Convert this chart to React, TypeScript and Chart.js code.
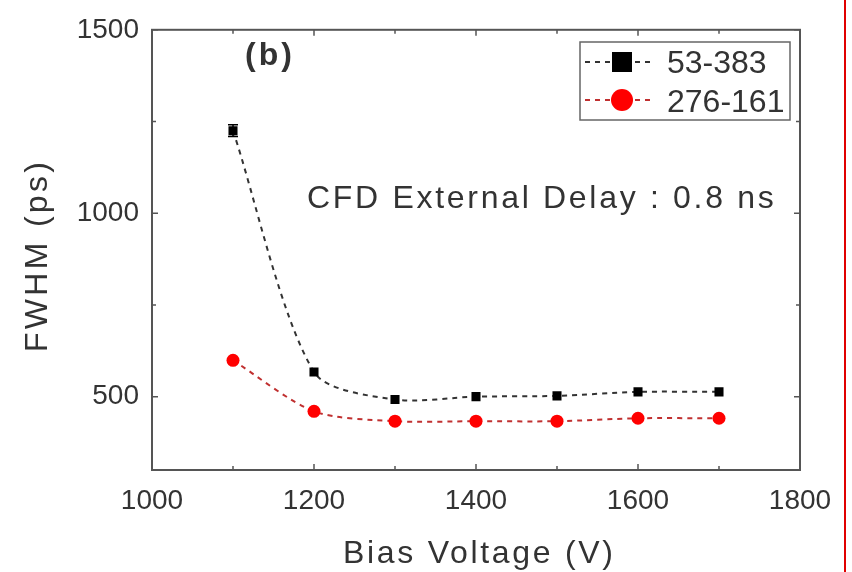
import React, { useEffect, useRef } from "react";
import { Chart, registerables } from "chart.js";

Chart.register(...registerables);

const voltages = [1100, 1200, 1300, 1400, 1500, 1600, 1700];
const fwhm53 = [1225, 567, 492, 500, 502, 513, 513];
const err53 = [16, 0, 0, 0, 0, 0, 0];
const fwhm276 = [599, 460, 433, 433, 433, 441, 441];
const seriesNames = ["53-383", "276-161"];
const xTickValues = [1000, 1100, 1200, 1300, 1400, 1500, 1600, 1700, 1800];
const xLabelValues = [1000, 1200, 1400, 1600, 1800];
const yTickValues = [500, 750, 1000, 1250, 1500];
const yLabelValues = [500, 1000, 1500];
const xTitle = "Bias Voltage (V)";
const yTitle = "FWHM (ps)";
const annotationText = "CFD External Delay : 0.8 ns";
const panelLabel = "(b)";

const FONT = "'Liberation Sans', Arial, sans-serif";
const TEXT = "#333333";

const decorPlugin = {
  id: "decor",
  afterDatasetsDraw(chart: any) {
    const ctx = chart.ctx;
    const { left, right, top, bottom } = chart.chartArea;
    const xs = chart.scales.x;
    const ys = chart.scales.y;
    ctx.save();
    // frame
    ctx.strokeStyle = "#555";
    ctx.lineWidth = 2;
    ctx.strokeRect(left, top, right - left, bottom - top);
    // inward ticks
    ctx.lineWidth = 1.5;
    xTickValues.forEach((v) => {
      const px = xs.getPixelForValue(v);
      const len = v % 200 === 0 ? 6 : 4;
      ctx.beginPath();
      ctx.moveTo(px, bottom);
      ctx.lineTo(px, bottom - len);
      ctx.moveTo(px, top);
      ctx.lineTo(px, top + len);
      ctx.stroke();
    });
    yTickValues.forEach((v) => {
      const py = ys.getPixelForValue(v);
      const len = v % 500 === 0 ? 6 : 4;
      ctx.beginPath();
      ctx.moveTo(left, py);
      ctx.lineTo(left + len, py);
      ctx.moveTo(right, py);
      ctx.lineTo(right - len, py);
      ctx.stroke();
    });
    // error bars
    ctx.strokeStyle = "#000";
    ctx.lineWidth = 1.5;
    voltages.forEach((v, i) => {
      const e = err53[i];
      if (!e) return;
      const px = xs.getPixelForValue(v);
      const y1 = ys.getPixelForValue(fwhm53[i] + e);
      const y2 = ys.getPixelForValue(fwhm53[i] - e);
      ctx.beginPath();
      ctx.moveTo(px, y1);
      ctx.lineTo(px, y2);
      ctx.moveTo(px - 5, y1);
      ctx.lineTo(px + 5, y1);
      ctx.moveTo(px - 5, y2);
      ctx.lineTo(px + 5, y2);
      ctx.stroke();
    });
    ctx.fillStyle = TEXT;
    ctx.textBaseline = "alphabetic";
    ctx.textAlign = "left";
    // panel label
    ctx.font = `bold 32px ${FONT}`;
    (ctx as any).letterSpacing = "3px";
    ctx.fillText(panelLabel, 245, 65);
    // annotation
    ctx.font = `32px ${FONT}`;
    (ctx as any).letterSpacing = "2.7px";
    ctx.fillText(annotationText, 307, 208);
    // axis titles
    ctx.fillText(xTitle, 343, 563);
    ctx.save();
    ctx.translate(47, 352);
    ctx.rotate(-Math.PI / 2);
    (ctx as any).letterSpacing = "3.3px";
    ctx.fillText(yTitle, 0, 0);
    ctx.restore();
    (ctx as any).letterSpacing = "0px";
    // legend box
    ctx.strokeStyle = "#666";
    ctx.lineWidth = 1.5;
    ctx.strokeRect(580, 42, 210, 78);
    const rows = [
      { y: 62, base: 73, color: "#000", line: "#333", shape: "rect" },
      { y: 100, base: 112, color: "#ff0000", line: "#c03030", shape: "circle" },
    ];
    rows.forEach((r, i) => {
      ctx.strokeStyle = r.line;
      ctx.lineWidth = 2;
      ctx.setLineDash([5, 5]);
      ctx.beginPath();
      ctx.moveTo(585, r.y);
      ctx.lineTo(655, r.y);
      ctx.stroke();
      ctx.setLineDash([]);
      ctx.fillStyle = r.color;
      if (r.shape === "rect") {
        ctx.fillRect(612, r.y - 10, 20, 20);
      } else {
        ctx.beginPath();
        ctx.arc(622, r.y, 11, 0, Math.PI * 2);
        ctx.fill();
      }
      ctx.fillStyle = TEXT;
      ctx.font = `32px ${FONT}`;
      ctx.textAlign = "left";
      ctx.textBaseline = "alphabetic";
      ctx.fillText(seriesNames[i], 667, r.base);
    });
    // red border line at right
    ctx.fillStyle = "#e00000";
    ctx.fillRect(844, 0, 2, chart.height);
    ctx.restore();
  },
};

export default function App() {
  const ref = useRef<HTMLCanvasElement>(null);
  useEffect(() => {
    document.body.style.margin = "0";
    const canvas = ref.current;
    if (!canvas) return;
    const chart = new Chart(canvas, {
      type: "scatter",
      data: {
        datasets: [
          {
            label: seriesNames[0],
            data: voltages.map((v, i) => ({ x: v, y: fwhm53[i] })),
            showLine: true,
            borderColor: "#333",
            borderWidth: 2,
            borderDash: [5, 5],
            tension: 0.28,
            pointStyle: "rect",
            pointRadius: 6.4,
            pointBackgroundColor: "#000",
            pointBorderColor: "#000",
            pointBorderWidth: 0,
          },
          {
            label: seriesNames[1],
            data: voltages.map((v, i) => ({ x: v, y: fwhm276[i] })),
            showLine: true,
            borderColor: "#c03030",
            borderWidth: 2,
            borderDash: [5, 5],
            tension: 0.28,
            pointStyle: "circle",
            pointRadius: 6.5,
            pointBackgroundColor: "#ff0000",
            pointBorderColor: "#ff0000",
            pointBorderWidth: 0,
          },
        ],
      },
      options: {
        responsive: false,
        animation: false,
        layout: { padding: { top: 22, right: 52, left: 0, bottom: 0 } },
        plugins: { legend: { display: false }, tooltip: { enabled: false } },
        scales: {
          x: {
            type: "linear",
            min: 1000,
            max: 1800,
            afterBuildTicks: (s: any) => {
              s.ticks = xLabelValues.map((v) => ({ value: v }));
            },
            afterFit: (s: any) => {
              s.height = 102;
            },
            grid: { display: false, drawTicks: false },
            border: { display: false },
            ticks: {
              font: { family: FONT, size: 28 },
              color: TEXT,
              padding: 14,
              maxRotation: 0,
              autoSkip: false,
              callback: (v: any) => String(v),
            },
            title: { display: false },
          },
          y: {
            type: "linear",
            min: 300,
            max: 1500,
            afterBuildTicks: (s: any) => {
              s.ticks = yLabelValues.map((v) => ({ value: v }));
            },
            afterFit: (s: any) => {
              s.width = 152;
            },
            grid: { display: false, drawTicks: false },
            border: { display: false },
            ticks: {
              font: { family: FONT, size: 28 },
              color: TEXT,
              padding: 13,
              autoSkip: false,
              callback: (v: any) => String(v),
            },
            title: { display: false },
          },
        },
      },
      plugins: [decorPlugin],
    });
    return () => chart.destroy();
  }, []);
  return (
    <div style={{ position: "absolute", left: 0, top: 0, width: 852, height: 572, background: "#fff" }}>
      <canvas ref={ref} width={852} height={572} />
    </div>
  );
}
